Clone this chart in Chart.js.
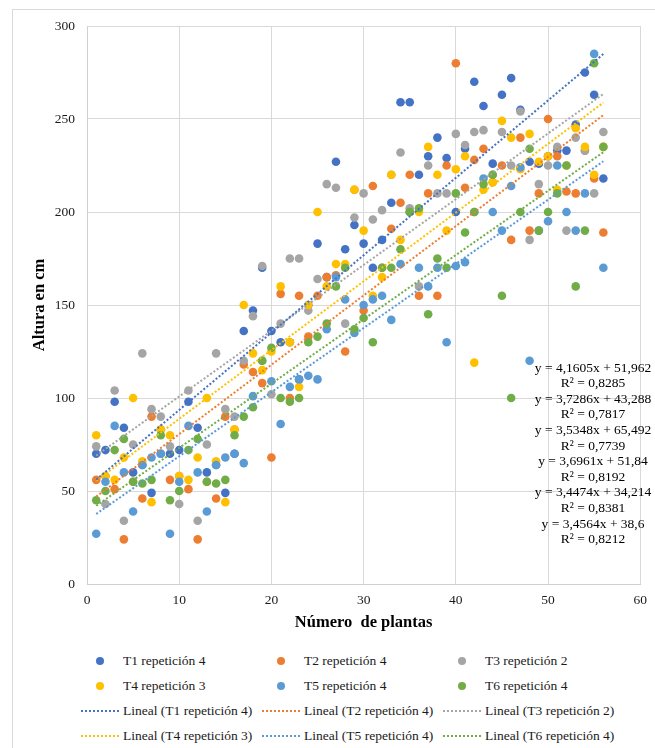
<!DOCTYPE html>
<html>
<head>
<meta charset="utf-8">
<script src="https://cdn.jsdelivr.net/npm/chart.js@4.4.0/dist/chart.umd.min.js"></script>
<style>
  body {
    margin: 0;
    width: 655px;
    height: 748px;
    position: relative;
    overflow: hidden;
    background: #fff;
    font-family: "Liberation Serif", "Times New Roman", serif;
  }
  #marco {
    position: absolute;
    left: 12px;
    top: 9px;
    width: 700px;
    height: 800px;
    border: 1px solid #d9d9d9;
  }
  #grafico {
    position: absolute;
    left: 0;
    top: 0;
  }
  .item {
    position: absolute;
    height: 20px;
    font-size: 13.5px;
    color: #1a1a1a;
    white-space: nowrap;
  }
  .punto {
    position: absolute;
    width: 8px;
    height: 8px;
    border-radius: 50%;
  }
  .linea {
    position: absolute;
    width: 38px;
    height: 0;
    border-top-width: 2px;
    border-top-style: dotted;
  }
  .texto {
    position: absolute;
    line-height: 20px;
  }
</style>
</head>
<body>
<div id="marco"></div>
<canvas id="grafico" width="655" height="640"></canvas>
<div id="leyenda"></div>

<script>
// Número de planta (eje X)
const plantas = [
  1, 2, 3, 4, 5, 6, 7, 8, 9, 10, 11, 12, 13, 14, 15, 16, 17, 18, 19, 20,
  21, 22, 23, 24, 25, 26, 27, 28, 29, 30, 31, 32, 33, 34, 35, 36, 37, 38, 39, 40,
  41, 42, 43, 44, 45, 46, 47, 48, 49, 50, 51, 52, 53, 54, 55, 56
];

// Altura en cm por tratamiento
const t1 = [
  70, 72, 98, 84, 60, 64, 49, 70, 70, 72, 98, 84, 60, 64, 49, 70,
  136, 147, 170, 136, 130, 130, 110, 150, 183, 165, 227, 180, 193, 183, 170, 185,
  205, 259, 259, 220, 230, 240, 229, 200, 234, 270, 257, 226, 263, 272, 255, 227,
  226, 230, 233, 233, 247, 275, 263, 218
];
const t2 = [
  56, 58, 51, 24, 55, 46, 90, 83, 56, 58, 51, 24, 55, 46, 90, 83,
  118, 114, 108, 68, 156, 100, 155, 133, 155, 165, 166, 125, 212, 147, 214, 170,
  191, 205, 220, 155, 210, 155, 225, 280, 213, 228, 234, 216, 225, 185, 240, 190,
  210, 250, 230, 211, 210, 233, 218, 189
];
const t3 = [
  74, 43, 104, 34, 75, 124, 94, 90, 74, 43, 104, 34, 75, 124, 94, 90,
  120, 144, 171, 102, 140, 175, 175, 147, 164, 215, 213, 140, 197, 210, 196, 201,
  220, 232, 202, 160, 225, 210, 210, 242, 236, 243, 244, 220, 243, 225, 254, 185,
  215, 225, 235, 190, 240, 233, 210, 243
];
const t4 = [
  80, 58, 56, 68, 100, 66, 44, 83, 80, 58, 56, 68, 100, 66, 44, 83,
  150, 124, 115, 125, 160, 130, 106, 150, 200, 160, 172, 172, 212, 190, 155, 165,
  220, 185, 200, 200, 235, 220, 190, 223, 230, 119, 212, 216, 249, 240, 223, 242,
  227, 230, 212, 225, 245, 235, 220, 235
];
const t5 = [
  27, 55, 85, 60, 39, 64, 68, 70, 27, 55, 85, 60, 39, 64, 68, 70,
  65, 101, 120, 109, 86, 106, 110, 112, 110, 137, 165, 153, 135, 150, 153, 155,
  142, 172, 200, 170, 160, 170, 130, 171, 173, 200, 218, 200, 190, 214, 224, 120,
  190, 195, 225, 200, 190, 210, 285, 170
];
const t6 = [
  45, 50, 72, 78, 55, 54, 56, 80, 45, 50, 72, 78, 55, 54, 56, 80,
  90, 95, 120, 127, 100, 98, 100, 130, 133, 140, 160, 170, 137, 143, 130, 170,
  170, 180, 200, 202, 145, 175, 170, 210, 189, 200, 215, 220, 155, 100, 200, 234,
  190, 200, 210, 225, 160, 190, 280, 235
];

const nombres = [
  'T1 repetición 4', 'T2 repetición 4', 'T3 repetición 2',
  'T4 repetición 3', 'T5 repetición 4', 'T6 repetición 4'
];
const colores = ['#4472C4', '#ED7D31', '#A5A5A5', '#FFC000', '#5B9BD5', '#70AD47'];
const alturas = [t1, t2, t3, t4, t5, t6];

// Ajuste lineal de cada tratamiento
const pendientes = [4.1605, 3.7286, 3.5348, 3.6961, 3.4474, 3.4564];
const intersecciones = [51.962, 43.288, 65.492, 51.84, 34.214, 38.6];
const r2 = [0.8285, 0.7817, 0.7739, 0.8192, 0.8381, 0.8212];

// Ejes
const xMin = 0, xMax = 60, xPaso = 10;
const yMin = 0, yMax = 300, yPaso = 50;

const fuente = '"Liberation Serif", "Times New Roman", serif';
const coma = v => String(v).replace('.', ',');

const datasets = [];

// Rectas de tendencia (por encima de los puntos)
pendientes.forEach((m, i) => {
  const x0 = plantas[0];
  const x1 = plantas[plantas.length - 1];
  datasets.push({
    label: 'Lineal (' + nombres[i] + ')',
    data: [
      { x: x0, y: m * x0 + intersecciones[i] },
      { x: x1, y: m * x1 + intersecciones[i] }
    ],
    showLine: true,
    borderColor: colores[i],
    borderWidth: 2,
    borderDash: [2, 2],
    pointRadius: 0,
    fill: false,
    order: 0
  });
});

// Puntos: T6 queda arriba, T1 abajo
alturas.forEach((serie, i) => {
  datasets.push({
    label: nombres[i],
    data: serie.map((v, k) => ({ x: plantas[k], y: v })),
    backgroundColor: colores[i],
    borderColor: colores[i],
    borderWidth: 0,
    pointRadius: 4.3,
    showLine: false,
    order: 6 - i
  });
});

// Ecuaciones y R² a la derecha
const ecuaciones = {
  id: 'ecuaciones',
  afterDatasetsDraw(chart) {
    const ctx = chart.ctx;
    ctx.save();
    ctx.font = '13.5px ' + fuente;
    ctx.fillStyle = '#000';
    ctx.textAlign = 'center';
    ctx.textBaseline = 'middle';
    pendientes.forEach((m, i) => {
      const y = 368 + i * 31.2;
      ctx.fillText('y = ' + coma(m) + 'x + ' + coma(intersecciones[i]), 593, y);
      ctx.fillText('R² = ' + coma(r2[i]), 593, y + 15.6);
    });
    ctx.restore();
  }
};

new Chart(document.getElementById('grafico'), {
  type: 'scatter',
  data: { datasets: datasets },
  options: {
    responsive: false,
    animation: false,
    layout: { padding: { top: 26, right: 8, left: 0, bottom: 0 } },
    plugins: {
      legend: { display: false },
      tooltip: { enabled: false }
    },
    scales: {
      x: {
        type: 'linear',
        min: xMin,
        max: xMax,
        ticks: {
          stepSize: xPaso,
          padding: 8,
          color: '#1a1a1a',
          font: { family: fuente, size: 13.5 }
        },
        grid: { color: '#d9d9d9', drawTicks: false },
        border: { color: '#d0d0d0' },
        title: {
          display: true,
          text: 'Número  de plantas',
          color: '#000',
          font: { family: fuente, size: 16.5, weight: 'bold' },
          padding: { top: 0, bottom: 7 }
        },
        afterFit: s => { s.height = 56; }
      },
      y: {
        min: yMin,
        max: yMax,
        ticks: {
          stepSize: yPaso,
          padding: 12,
          color: '#1a1a1a',
          font: { family: fuente, size: 13.5 }
        },
        grid: { color: '#d9d9d9', drawTicks: false },
        border: { color: '#d0d0d0' },
        title: {
          display: true,
          text: 'Altura en cm',
          color: '#000',
          font: { family: fuente, size: 16.5, weight: 'bold' },
          padding: { top: 30, bottom: 0 }
        },
        afterFit: s => { s.width = 87; }
      }
    }
  },
  plugins: [ecuaciones]
});

// Leyenda en tres columnas
const leyenda = document.getElementById('leyenda');
const columnas = [81, 262, 443];
const filas = [661, 686, 711, 736];

function agregarItem(fila, col, color, texto, esLinea) {
  const item = document.createElement('div');
  item.className = 'item';
  item.style.left = columnas[col] + 'px';
  item.style.top = (filas[fila] - 10) + 'px';
  const marca = document.createElement('div');
  if (esLinea) {
    marca.className = 'linea';
    marca.style.left = '0px';
    marca.style.top = '9px';
    marca.style.borderTopColor = color;
  } else {
    marca.className = 'punto';
    marca.style.left = '15px';
    marca.style.top = '6px';
    marca.style.background = color;
  }
  const t = document.createElement('span');
  t.className = 'texto';
  t.style.left = '42px';
  t.textContent = texto;
  item.appendChild(marca);
  item.appendChild(t);
  leyenda.appendChild(item);
}

nombres.forEach((n, i) => {
  agregarItem(Math.floor(i / 3), i % 3, colores[i], n, false);
});
nombres.forEach((n, i) => {
  agregarItem(2 + Math.floor(i / 3), i % 3, colores[i], 'Lineal (' + n + ')', true);
});
</script>
</body>
</html>
